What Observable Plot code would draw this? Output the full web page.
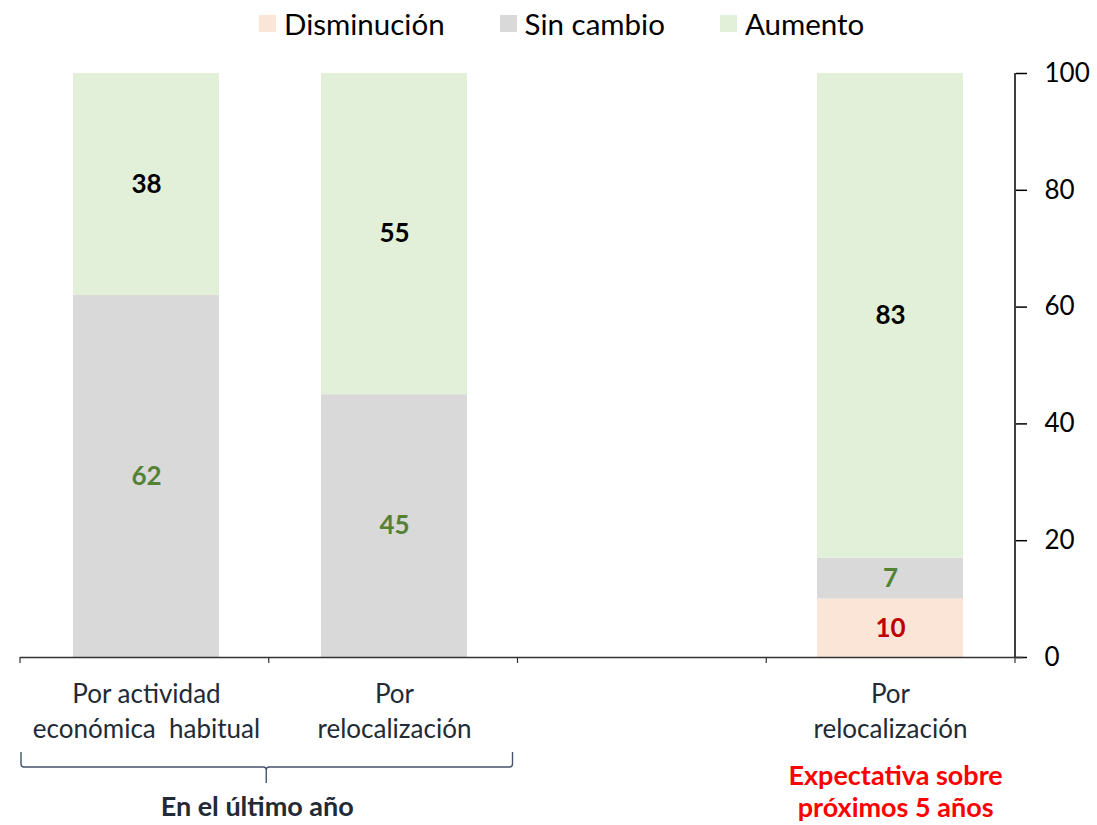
<!DOCTYPE html>
<html>
<head>
<meta charset="utf-8">
<script src="https://cdn.jsdelivr.net/npm/d3@7"></script>
<script src="https://cdn.jsdelivr.net/npm/@observablehq/plot@0.6"></script>
<style>
  html, body { margin: 0; padding: 0; background: #fff; }
  body { width: 1097px; font-family: Lato, "Open Sans", sans-serif; }
  #legend { height: 46px; display: flex; align-items: center; justify-content: flex-start; padding-left: 259px; box-sizing: border-box; font-size: 29.5px; color: #000; }
  .item { display: flex; align-items: center; margin-right: 55px; white-space: nowrap; }
  .item:last-child { margin-right: 0; }
  .sw { width: 17px; height: 17px; margin-right: 8px; }
</style>
</head>
<body>
<div id="legend"></div>
<div id="chart"></div>
<script>
// ---- data ----
const categoryKeys = ["actividad", "relocalizacion", "vacio", "relocalizacion5"];
const categoryLabels = ["Por actividad\neconómica  habitual", "Por\nrelocalización", "", "Por\nrelocalización"];
const seriesNames = ["Disminución", "Sin cambio", "Aumento"];
const disminucion = [0, 0, null, 10];
const sinCambio = [62, 45, null, 7];
const aumento = [38, 55, null, 83];
const seriesColors = ["#FBE5D6", "#D9D9D9", "#E2F0D9"];
const labelColors = ["#C00000", "#548235", "#000000"];
const yTicks = [0, 20, 40, 60, 80, 100];
const groupLabels = ["En el último año", "Expectativa sobre\npróximos 5 años"];

// ---- legend ----
const legend = document.getElementById("legend");
seriesNames.forEach((s, i) => {
  const it = document.createElement("div");
  it.className = "item";
  it.innerHTML = `<div class="sw" style="background:${seriesColors[i]}"></div><span>${s}</span>`;
  legend.appendChild(it);
});

// ---- table ----
const seriesValues = [disminucion, sinCambio, aumento];
const rows = [];
categoryKeys.forEach((k, ci) => {
  seriesNames.forEach((s, si) => {
    const v = seriesValues[si][ci];
    if (v != null) rows.push({key: k, series: s, value: v});
  });
});
const labelRows = categoryKeys.map((k, i) => ({key: k, label: categoryLabels[i]})).filter(d => d.label);

const W = 1097, H = 779, mL = 20, mR = 82, mT = 27, mB = 168;

function decorations(index, scales, values, dims) {
  const xb = d3.scaleBand(categoryKeys, [dims.marginLeft, dims.width - dims.marginRight]).padding(0);
  const y = scales.y;
  const y0 = y(0);
  const g = d3.create("svg:g");
  // right axis line
  const xr = dims.width - dims.marginRight;
  g.append("line").attr("x1", xr).attr("x2", xr).attr("y1", y(0)).attr("y2", y(100))
    .attr("stroke", "#000").attr("stroke-width", 1.5);
  // boundary ticks on x axis
  const edges = categoryKeys.map(k => xb(k)).concat([xb(categoryKeys[categoryKeys.length - 1]) + xb.bandwidth()]);
  edges.forEach(ex => {
    g.append("line").attr("x1", ex).attr("x2", ex).attr("y1", y0).attr("y2", y0 + 6)
      .attr("stroke", "#333").attr("stroke-width", 1.2);
  });
  // bracket under first two categories
  const bx0 = xb(categoryKeys[0]) + 1;
  const bx1 = xb(categoryKeys[2]) - 5;
  const bc = (bx0 + xb(categoryKeys[2])) / 2 - 3;
  const top = y0 + 95, mid = y0 + 110, bot = y0 + 126;
  const p = d3.path();
  p.moveTo(bx0, top); p.lineTo(bx0, mid - 3); p.quadraticCurveTo(bx0, mid, bx0 + 3, mid);
  p.lineTo(bc - 3, mid); p.quadraticCurveTo(bc, mid, bc, mid + 3); p.lineTo(bc, bot);
  p.moveTo(bc, mid + 3); p.quadraticCurveTo(bc, mid, bc + 3, mid);
  p.lineTo(bx1 - 3, mid); p.quadraticCurveTo(bx1, mid, bx1, mid - 3); p.lineTo(bx1, top);
  g.append("path").attr("d", p.toString()).attr("fill", "none").attr("stroke", "#44546A").attr("stroke-width", 1.4);
  // group labels
  g.append("text").attr("x", bc - 9).attr("y", y0 + 150).attr("dy", "0.35em")
    .attr("text-anchor", "middle").attr("font-size", 27).attr("font-weight", "bold")
    .attr("fill", "#222A35").text(groupLabels[0]);
  const cx = xb(categoryKeys[3]) + xb.bandwidth() / 2 + 5;
  groupLabels[1].split("\n").forEach((line, i) => {
    g.append("text").attr("x", cx).attr("y", y0 + 119 + i * 32).attr("dy", "0.35em")
      .attr("text-anchor", "middle").attr("font-size", 27).attr("font-weight", "bold")
      .attr("fill", "#FF0000").text(line);
  });
  return g.node();
}

const plot = Plot.plot({
  width: W, height: H,
  marginLeft: mL, marginRight: mR, marginTop: mT, marginBottom: mB,
  style: {fontFamily: "Lato, 'Open Sans', sans-serif", background: "#fff", overflow: "visible"},
  x: {type: "band", domain: categoryKeys, padding: 0, axis: null},
  y: {domain: [0, 100], axis: null},
  color: {domain: seriesNames, range: seriesColors},
  marks: [
    Plot.barY(rows, Plot.stackY({x: "key", y: "value", fill: "series", order: seriesNames, insetLeft: 51, insetRight: 51})),
    Plot.text(rows, Plot.stackY({
      filter: d => d.value > 0,
      x: "key", y: "value", z: "series", order: seriesNames,
      text: d => String(d.value),
      fill: d => labelColors[seriesNames.indexOf(d.series)],
      fontSize: 26, fontWeight: "bold"
    })),
    Plot.axisY({anchor: "right", ticks: yTicks, tickSize: 11, tickPadding: 18, fontSize: 26, color: "#000", tickFormat: d => d, strokeWidth: 1.5, label: null}),
    Plot.ruleY([0], {stroke: "#333", strokeWidth: 1.5, insetRight: -8}),
    Plot.text(labelRows, {x: "key", y: () => 0, text: "label", dy: 21, lineAnchor: "top", lineHeight: 1.33, fontSize: 26, fill: "#222A35"}),
    decorations
  ]
});
document.getElementById("chart").appendChild(plot);
</script>
</body>
</html>
